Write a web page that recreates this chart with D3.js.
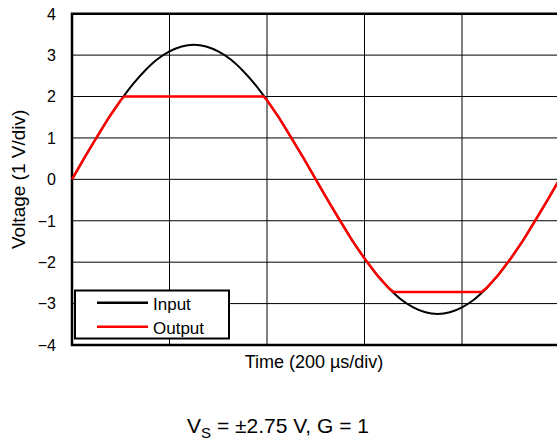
<!DOCTYPE html>
<html lang="en">
<head>
<meta charset="utf-8">
<title>Clipping</title>
<style>
  body { margin: 0; background: #fff; }
  svg text { font-family: "Liberation Sans", Arial, sans-serif; fill: #000; }
</style>
</head>
<body>
<div id="chart"></div>
<script src="https://d3js.org/d3.v7.min.js"></script>
<script>
// time in µs, voltage in V
var inTime = [0, 25, 50, 75, 100, 125, 150, 175, 200, 225, 250, 275, 300, 325, 350, 375, 400, 425, 450, 475,
  500, 525, 550, 575, 600, 625, 650, 675, 700, 725, 750, 775, 800, 825, 850, 875, 900, 925, 950, 975, 1000];
var inputV = [0, 0.51, 1.00, 1.48, 1.91, 2.30, 2.63, 2.90, 3.09, 3.21, 3.25, 3.21, 3.09, 2.90, 2.63, 2.30, 1.91, 1.48, 1.00, 0.51,
  0, -0.51, -1.00, -1.48, -1.91, -2.30, -2.63, -2.90, -3.09, -3.21, -3.25, -3.21, -3.09, -2.90, -2.63, -2.30, -1.91, -1.48, -1.00, -0.51, 0];

var outTime = [0, 25, 50, 75, 100, 107, 393, 400, 425, 450, 475, 500, 525, 550, 575, 600, 625, 650, 660,
  840, 850, 875, 900, 925, 950, 975, 1000];
var outputV = [0, 0.51, 1.00, 1.48, 1.91, 2.00, 2.00, 1.91, 1.48, 1.00, 0.51, 0, -0.51, -1.00, -1.48, -1.91, -2.30, -2.63, -2.72,
  -2.72, -2.63, -2.30, -1.91, -1.48, -1.00, -0.51, 0];

var yTicks = [4, 3, 2, 1, 0, -1, -2, -3, -4];
var xGrid = [200, 400, 600, 800];

var W = 557, H = 439;
var svg = d3.select("#chart").append("svg")
    .attr("width", W)
    .attr("height", H);

var x = d3.scaleLinear().domain([0, 1000]).range([72, 559.5]);
var y = d3.scaleLinear().domain([-4, 4]).range([345, 13.7]);

// grid
svg.append("g").selectAll("line")
  .data(yTicks.filter(function(d) { return d > -4 && d < 4; }))
  .enter().append("line")
    .attr("x1", x(0)).attr("x2", x(1000))
    .attr("y1", function(d) { return y(d); })
    .attr("y2", function(d) { return y(d); })
    .attr("stroke", "#000").attr("stroke-width", 1);

svg.append("g").selectAll("line")
  .data(xGrid)
  .enter().append("line")
    .attr("x1", function(d) { return x(d); })
    .attr("x2", function(d) { return x(d); })
    .attr("y1", y(4)).attr("y2", y(-4))
    .attr("stroke", "#000").attr("stroke-width", 1);

// frame (right side runs off the page)
svg.append("path")
    .attr("d", "M" + x(1000) + "," + y(4) + "H" + x(0) + "V" + y(-4) + "H" + x(1000))
    .attr("fill", "none")
    .attr("stroke", "#000")
    .attr("stroke-width", 2.5);

// y tick labels
svg.append("g").selectAll("text")
  .data(yTicks)
  .enter().append("text")
    .attr("x", 56)
    .attr("y", function(d) { return y(d) + 5.8; })
    .attr("text-anchor", "end")
    .style("font-size", "16px")
    .text(function(d) { return d < 0 ? "\u2212" + (-d) : d; });

// traces
var inData = inTime.map(function(t, i) { return [t, inputV[i]]; });
var outData = outTime.map(function(t, i) { return [t, outputV[i]]; });

svg.append("path")
    .datum(inData)
    .attr("fill", "none")
    .attr("stroke", "#000")
    .attr("stroke-width", 2)
    .attr("d", d3.line()
      .curve(d3.curveMonotoneX)
      .x(function(d) { return x(d[0]); })
      .y(function(d) { return y(d[1]); }));

svg.append("path")
    .datum(outData)
    .attr("fill", "none")
    .attr("stroke", "#ff0000")
    .attr("stroke-width", 2.5)
    .attr("stroke-linejoin", "round")
    .attr("d", d3.line()
      .x(function(d) { return x(d[0]); })
      .y(function(d) { return y(d[1]); }));

// legend
var leg = svg.append("g");
leg.append("rect")
    .attr("x", 75).attr("y", 290.5)
    .attr("width", 154).attr("height", 48)
    .attr("fill", "#fff").attr("stroke", "#000").attr("stroke-width", 2);
[["Input", "#000", 302.7, 310], ["Output", "#ff0000", 326.7, 334.3]].forEach(function(e) {
  leg.append("line")
      .attr("x1", 97).attr("x2", 148)
      .attr("y1", e[2]).attr("y2", e[2])
      .attr("stroke", e[1]).attr("stroke-width", 2.5);
  leg.append("text")
      .attr("x", 153).attr("y", e[3])
      .style("font-size", "17px")
      .text(e[0]);
});

// axis titles
svg.append("text")
    .attr("transform", "translate(25," + y(0) + ") rotate(-90)")
    .attr("text-anchor", "middle")
    .style("font-size", "19px")
    .text("Voltage (1 V/div)");

svg.append("text")
    .attr("x", 314).attr("y", 368)
    .attr("text-anchor", "middle")
    .style("font-size", "18px")
    .text("Time (200 \u00b5s/div)");

// condition note
var note = svg.append("text")
    .attr("x", 278).attr("y", 432.5)
    .attr("text-anchor", "middle")
    .style("font-size", "21px");
note.append("tspan").text("V");
note.append("tspan").attr("dy", 5).style("font-size", "15px").text("S");
note.append("tspan").attr("dy", -5).text(" = \u00b12.75 V, G = 1");
</script>
</body>
</html>
